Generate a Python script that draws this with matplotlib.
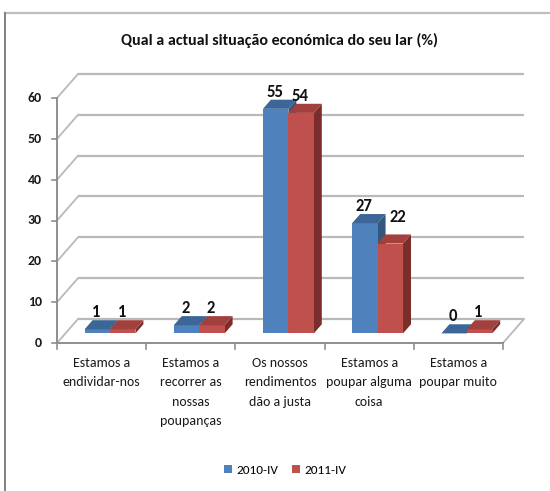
import matplotlib
matplotlib.use('Agg')
import matplotlib.pyplot as plt
from matplotlib.patches import Polygon, Patch
from matplotlib.lines import Line2D

categories = ["Estamos a\nendividar-nos",
              "Estamos a\nrecorrer as\nnossas\npoupanças",
              "Os nossos\nrendimentos\ndão a justa",
              "Estamos a\npoupar alguma\ncoisa",
              "Estamos a\npoupar muito"]
series_names = ["2010-IV", "2011-IV"]
values_2010 = [1, 2, 55, 27, 0]
values_2011 = [1, 2, 54, 22, 1]
y_ticks = [0, 10, 20, 30, 40, 50, 60]
title = "Qual a actual situação económica do seu lar (%)"

FONT = ['Carlito', 'Liberation Sans', 'DejaVu Sans']
plt.rcParams['font.family'] = FONT

W, H = 550, 491
fig = plt.figure(figsize=(W / 100, H / 100), dpi=100)
fig.patch.set_facecolor('white')
ax = fig.add_axes([0, 0, 1, 1])

# pixel mapping of the front plane
X0, X5 = 57, 503
Y0, Y60 = 343, 98
ppx = (X5 - X0) / 5.0
ppy = (Y0 - Y60) / 60.0
ax.set_xlim(-X0 / ppx, (W - X0) / ppx)
ax.set_ylim(-(H - Y0) / ppy, Y0 / ppy)
ax.axis('off')

DX = 21 / ppx   # depth offset (category units)
DY = 24 / ppy   # depth offset (value units)
n = len(categories)
ymax = y_ticks[-1]

grid_c = '#b9b9b9'
axis_c = '#8e8e8e'

# back wall gridlines and left wall diagonals
for v in y_ticks:
    ax.plot([DX, n + DX], [v + DY, v + DY], color=grid_c, lw=1.6, zorder=1,
            solid_capstyle='butt')
    ax.plot([0, DX], [v, v + DY], color=grid_c, lw=1.3, zorder=1)
    # y tick
    ax.plot([-5 / ppx, 0], [v, v], color=axis_c, lw=1.2, zorder=2)
    ax.text(-15 / ppx, v, str(v), ha='right', va='center', fontsize=10,
            fontweight='bold', color='#1a1a1a')
# floor right edge
ax.plot([n, n + DX], [0, DY], color=grid_c, lw=1.3, zorder=1)
# front axes
ax.plot([0, 0], [0, ymax], color=axis_c, lw=1.4, zorder=2)
ax.plot([0, n], [0, 0], color=axis_c, lw=1.4, zorder=2)
for i in range(n + 1):
    ax.plot([i, i], [0, -6 / ppy], color=axis_c, lw=1.2, zorder=2)

# bars (pseudo 3D)
f0, fd = 0.40, 0.38
bw = 0.285
colors = [
    dict(face='#4f81bd', top='#3c6697', side='#34577f'),
    dict(face='#c0504d', top='#a2403d', side='#7a2e2c'),
]
series = [values_2010, values_2011]
label_nudge = {(1, 3): (9, 9)}

for i in range(n):
    for s, vals in enumerate(series):
        v = vals[i]
        c = colors[s]
        xl = i + 0.5 - bw + s * bw + f0 * DX
        xr = xl + bw
        yb = f0 * DY
        yt = v + f0 * DY
        ddx, ddy = fd * DX, fd * DY
        z = 3 + i * 2 + s
        # side
        ax.add_patch(Polygon([(xr, yb), (xr + ddx, yb + ddy), (xr + ddx, yt + ddy), (xr, yt)],
                             closed=True, facecolor=c['side'], edgecolor='none', zorder=z))
        # front
        ax.add_patch(Polygon([(xl, yb), (xr, yb), (xr, yt), (xl, yt)],
                             closed=True, facecolor=c['face'], edgecolor='none', zorder=z))
        # top
        ax.add_patch(Polygon([(xl, yt), (xr, yt), (xr + ddx, yt + ddy), (xl + ddx, yt + ddy)],
                             closed=True, facecolor=c['top'], edgecolor='none', zorder=z))
        nx, ny = label_nudge.get((s, i), (0, 0))
        ax.text((xl + xr) / 2 - 1 / ppx + nx / ppx, yt + ddy + 8 / ppy + ny / ppy, str(v),
                ha='center', va='center', fontsize=12, fontweight='bold',
                color='#111111', zorder=20)

# category labels
for i, lab in enumerate(categories):
    ax.text(i + 0.5, -(357 - Y0) / ppy, lab, ha='center', va='top', fontsize=10,
            color='#1a1a1a', linespacing=1.74)

# title
fig.text(280 / W, 1 - 40 / H, title, ha='center', va='center', fontsize=11.5,
         fontweight='bold', color='#111111')

# legend
handles = [Patch(facecolor=colors[k]['face'], edgecolor='none') for k in range(2)]
fig.legend(handles, series_names, loc='center', bbox_to_anchor=(285 / W, 1 - 470 / H),
           ncol=2, frameon=False, fontsize=9.5, handlelength=0.6, handleheight=0.6,
           handletextpad=0.35, columnspacing=1.0)

# outer frame (top and left edges)
fig.add_artist(Line2D([4.5 / W, 1], [1 - 12.5 / H, 1 - 12.5 / H], transform=fig.transFigure,
                      color='#bdbdbd', lw=1.6))
fig.add_artist(Line2D([4.5 / W, 4.5 / W], [0, 1 - 12.5 / H], transform=fig.transFigure,
                      color='#808080', lw=1.4))

fig.savefig('out.png', dpi=100, facecolor='white')
